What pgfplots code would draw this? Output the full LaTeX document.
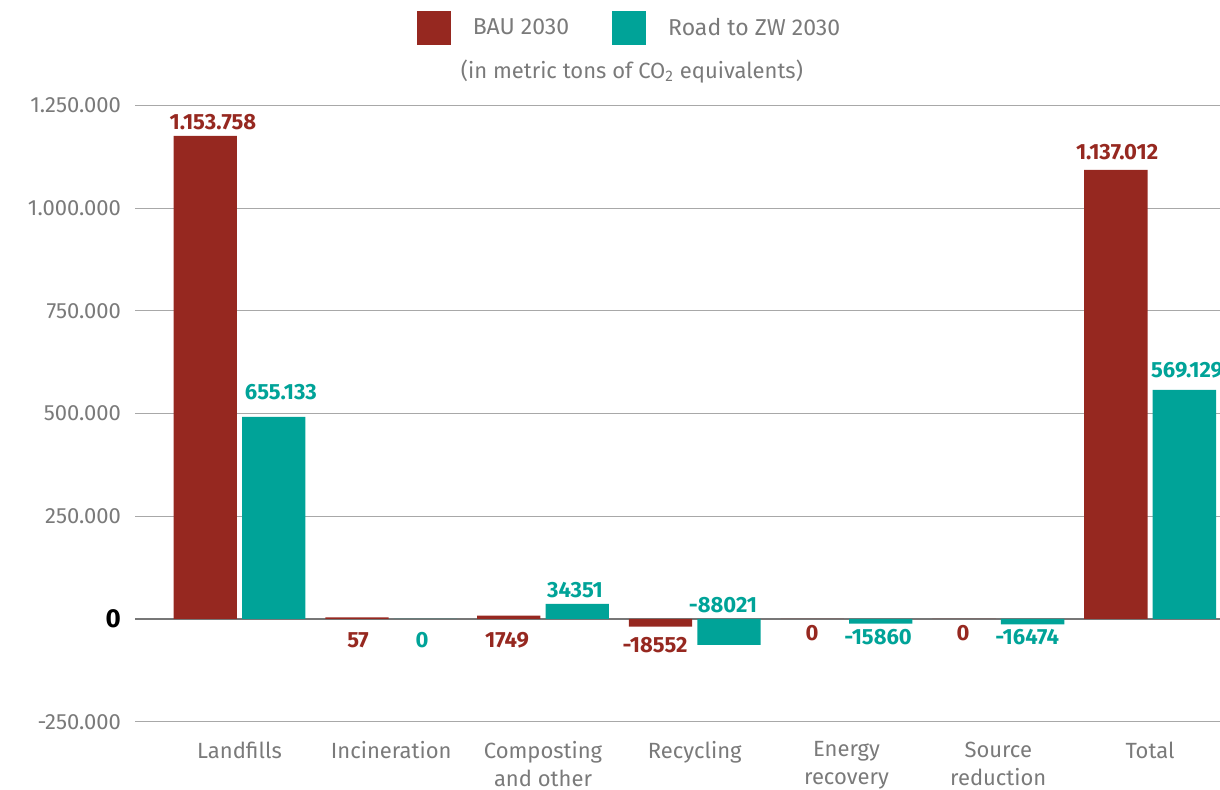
\documentclass[border=0pt]{standalone}
\usepackage{pgfplots}
\pgfplotsset{compat=1.18}
\usepackage{fontspec}
\setmainfont{Fira Sans}
\definecolor{bau}{HTML}{962820}
\definecolor{zw}{HTML}{00A398}
\definecolor{txt}{HTML}{7A7A7A}
\definecolor{grd}{HTML}{A8A8A8}
\definecolor{zline}{HTML}{777777}

\pgfplotstableread{
x y
0 1175300
1 4000
2 8000
3 -18600
4 0
5 0
6 1092600
}\bautab
\pgfplotstableread{
x y
0 491500
1 0
2 36500
3 -63300
4 -11500
5 -13000
6 557200
}\zwtab
\pgfplotstableread{
x y lab
-0.175 1209350 1.153.758
0.781 -51100 57
1.763 -51100 1749
2.738 -63300 -18552
3.773 -34070 0
4.768 -34070 0
5.783 1137000 1.137.012
}\baulab
\pgfplotstableread{
x y lab
0.273 552300 655.133
1.203 -51100 0
2.211 70560 34351
3.186 34070 -88021
4.208 -43800 -15860
5.190 -43800 -16474
6.244 605900 569.129
}\zwlab

\begin{document}
\begin{tikzpicture}
\useasboundingbox (0,0) rectangle (610pt,395pt);
\clip (0,0) rectangle (610pt,395pt);
\begin{axis}[
  at={(67.5pt,34.15pt)}, anchor=south west,
  scale only axis, width=542.5pt, height=308.2pt,
  xmin=-0.6886, xmax=6.461,
  ymin=-250000, ymax=1250000,
  scaled y ticks=false,
  axis line style={draw=none},
  tick style={draw=none},
  ytick={-250000,250000,500000,750000,1000000,1250000},
  yticklabels={-250.000,250.000,500.000,750.000,1.000.000,1.250.000},
  extra y ticks={0},
  extra y tick labels={\textbf{0}\hspace{-3.5pt}},
  extra y tick style={grid style={zline, line width=1.15pt},
     yticklabel style={text=black, font=\fontsize{13}{15}\selectfont}},
  ymajorgrids, grid style={grd, line width=0.5pt},
  xtick={0,...,6},
  xticklabels={Landfills, Incineration, {Composting\\and other}, Recycling, {Energy\\recovery}, {Source\\reduction}, Total},
  xticklabel style={align=center, text=txt, font=\fontsize{11}{14}\selectfont, yshift=-6.5pt},
  yticklabel style={text=txt, font=\fontsize{11}{14}\selectfont, xshift=-3.5pt},
  legend style={at={(0.4567,1.1249)}, anchor=center, draw=none, fill=none,
     legend columns=2, font=\fontsize{11.5}{14}\selectfont, text=txt,
     /tikz/every odd column/.append style={column sep=9pt},
     /tikz/every even column/.append style={column sep=19.5pt}},
  legend image code/.code={\fill[#1] (0pt,-8.5pt) rectangle (17pt,8.5pt);},
  title={(in metric tons of CO\textsubscript{2} equivalents)},
  title style={at={(0.458,1.036)}, anchor=center, yshift=0pt, text=txt, font=\fontsize{11}{14}\selectfont},
]
\addplot[ybar, bar width=0.418, bar shift=-0.2257, fill=bau, draw=none] table[x=x,y=y] {\bautab};
\addlegendentry{BAU 2030}
\addplot[ybar, bar width=0.418, bar shift=0.2257, fill=zw, draw=none] table[x=x,y=y] {\zwtab};
\addlegendentry{Road to ZW 2030}
\addplot[forget plot, draw=none, mark=none, nodes near coords, point meta=explicit symbolic,
  every node near coord/.append style={anchor=center, text=bau, font=\bfseries\fontsize{11}{14}\selectfont}]
  table[x=x,y=y,meta=lab] {\baulab};
\addplot[forget plot, draw=none, mark=none, nodes near coords, point meta=explicit symbolic,
  every node near coord/.append style={anchor=center, text=zw, font=\bfseries\fontsize{11}{14}\selectfont}]
  table[x=x,y=y,meta=lab] {\zwlab};
\end{axis}
\end{tikzpicture}
\end{document}
